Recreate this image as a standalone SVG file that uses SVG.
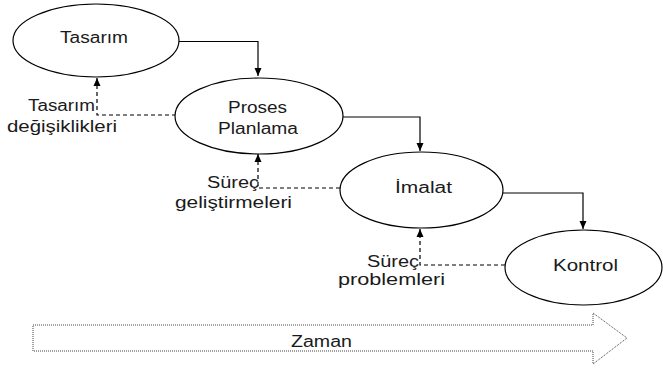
<svg xmlns="http://www.w3.org/2000/svg" width="663" height="369" viewBox="0 0 663 369">
<style>
.node ellipse{fill:#fff;stroke:#000;stroke-width:1.2}
text{font-family:"Liberation Sans","Open Sans",sans-serif;font-size:16px;fill:#1a1a1a}
.solid{fill:none;stroke:#000;stroke-width:1.2}
.dash{fill:none;stroke:#000;stroke-width:1.2;stroke-dasharray:4 3}
.time{fill:#fff;stroke:#444;stroke-width:1;stroke-dasharray:1 1}
</style>
<defs>
<marker id="ah" viewBox="0 0 8 8" refX="8" refY="4" markerWidth="8" markerHeight="8" markerUnits="userSpaceOnUse" orient="auto">
<path d="M0,0.5 L8,4 L0,7.5 Z" fill="#000"/>
</marker>
</defs>
<rect width="663" height="369" fill="#fff"/>
<g id="zaman">
<polygon class="time" points="33,325 593,325 593,313 627,338 593,364 593,351 33,351"/>
<text x="291" y="347" textLength="61" lengthAdjust="spacingAndGlyphs">Zaman</text>
</g>
<g id="connectors">
<path class="solid" d="M178,41.5 H258 V76" marker-end="url(#ah)"/>
<path class="solid" d="M343,117 H420 V151" marker-end="url(#ah)"/>
<path class="solid" d="M503,193 H583 V229" marker-end="url(#ah)"/>
<path class="dash" d="M176,115 H97 V78" marker-end="url(#ah)"/>
<path class="dash" d="M340,188 H258 V154" marker-end="url(#ah)"/>
<path class="dash" d="M505,265 H420 V229" marker-end="url(#ah)"/>
</g>
<g id="tasarim" class="node">
<ellipse cx="96" cy="40.5" rx="83" ry="36.5"/>
<text x="60" y="43" textLength="68" lengthAdjust="spacingAndGlyphs">Tasarım</text>
</g>
<g id="proses" class="node">
<ellipse cx="259" cy="116" rx="84" ry="38"/>
<text x="228" y="113" textLength="59" lengthAdjust="spacingAndGlyphs">Proses</text>
<text x="218" y="134" textLength="80" lengthAdjust="spacingAndGlyphs">Planlama</text>
</g>
<g id="imalat" class="node">
<ellipse cx="421.5" cy="190" rx="81.5" ry="38"/>
<text x="395" y="193" textLength="57" lengthAdjust="spacingAndGlyphs">İmalat</text>
</g>
<g id="kontrol" class="node">
<ellipse cx="583.5" cy="267.5" rx="78.5" ry="37.5"/>
<text x="553" y="271" textLength="65" lengthAdjust="spacingAndGlyphs">Kontrol</text>
</g>
<g id="labels">
<text x="28" y="111" textLength="67" lengthAdjust="spacingAndGlyphs">Tasarım</text>
<text x="7" y="132" textLength="110" lengthAdjust="spacingAndGlyphs">değişiklikleri</text>
<text x="207" y="188" textLength="52" lengthAdjust="spacingAndGlyphs">Süreç</text>
<text x="175" y="208" textLength="117" lengthAdjust="spacingAndGlyphs">geliştirmeleri</text>
<text x="367" y="267" textLength="52" lengthAdjust="spacingAndGlyphs">Süreç</text>
<text x="338" y="285" textLength="107" lengthAdjust="spacingAndGlyphs">problemleri</text>
</g>
</svg>
